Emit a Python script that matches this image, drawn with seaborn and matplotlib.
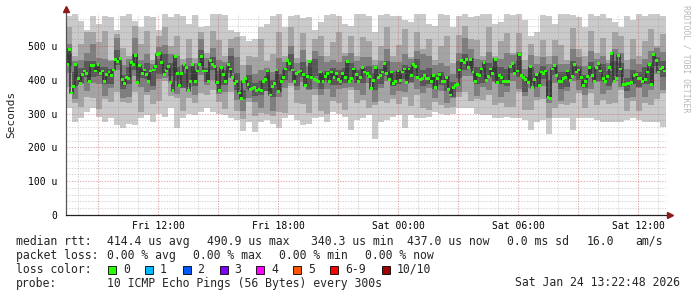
import numpy as np
import pandas as pd
import matplotlib
matplotlib.use("Agg")
import matplotlib.pyplot as plt
import seaborn as sns
from matplotlib.patches import Rectangle

# ---------------- data (microseconds) ----------------
start_hour = 7 + 22.8 / 60          # Fri 07:22:48
span_hours = 30.0                    # until Sat 13:22:48

median_rtt = [
    444, 491, 361, 379, 444, 405, 388, 417, 426, 420, 396, 441, 441, 426, 444, 420, 426, 396, 417, 423,
    414, 429, 461, 453, 464, 402, 388, 408, 405, 450, 444, 473, 391, 441, 420, 429, 417, 396, 426, 429,
    438, 476, 479,
    450, 417, 426, 438, 391, 367, 470, 420, 382, 420, 444, 435, 367, 396, 444, 396, 426, 444, 470, 426,
    426, 396, 456, 444, 438, 391, 367, 435, 417, 394, 444, 432, 408, 388, 394, 361, 346, 396, 405, 385,
    370, 373, 376, 367, 370,
    367, 396, 402, 426, 355, 379, 388, 429, 364, 396, 408, 432, 456, 447, 429, 396, 420, 423, 426, 417,
    382, 411, 453, 408, 402, 399, 396, 423, 396, 411, 420, 394, 423, 408, 420, 402, 396, 420, 408, 453,
    396, 405, 432, 417, 394,
    408, 435, 423, 420, 411, 373, 399, 435, 408, 414, 423, 447, 420, 402, 423, 388, 396, 426, 399, 423,
    432, 391, 432, 414, 444, 438, 408, 402, 405, 414, 405, 405, 396, 414, 376, 405, 417, 396, 396, 408,
    370, 355, 376, 382, 385, 429, 456, 450,
    461, 435, 461, 423, 396, 417, 414, 432, 450, 399, 411, 432, 420, 461, 391, 414, 408, 396, 394, 396,
    438, 447, 420, 426, 476, 414, 408, 402, 391, 438, 376, 402, 417, 382, 423, 420, 426, 349, 346, 432,
    441, 414, 396, 394, 405,
    408, 426, 399, 411, 444, 423, 429, 408, 382, 396, 411, 435, 414, 394, 435, 447, 426, 405, 396, 411,
    435, 479, 394, 405, 473, 432, 385, 385, 388, 388, 391, 414, 417, 405, 405, 394, 402, 423, 444, 385,
    476, 458, 423, 432, 435, 426,
]

# smoke bands (sorted pings): outermost -> innermost
smoke_outer_hi = [
    590, 595, 575, 548, 590, 565, 590, 585, 548, 590, 595, 575, 555, 590, 585, 548, 595,
    586, 596, 590, 566, 591, 556, 560, 596, 594, 591, 546, 540, 530, 516, 520, 556,
    566, 590, 596, 556, 588, 592, 584, 586, 546, 570, 591, 594, 588, 566, 560, 594, 596,
    590, 540, 592, 596, 588, 590, 576, 570, 596, 594, 566, 560, 596, 592, 556, 590, 595,
    586, 590, 596, 594, 566, 570, 596, 592, 596, 576, 530, 540, 591, 588, 566, 596, 594,
    592, 586, 556, 594, 590, 596, 584, 570, 556, 590, 576, 596, 588, 594, 596, 590,
]
smoke_outer_lo = [
    316, 276, 286, 306, 316, 290, 276, 286, 266, 258,
    270, 266, 286, 296, 276, 300, 290, 316, 256, 286,
    300, 296, 306, 316, 306, 300, 296, 286, 280, 250,
    276, 246, 276, 280, 270, 256, 286, 296, 280, 266,
    270, 286, 290, 276, 306, 300, 290, 251, 280, 286,
    296, 226, 276, 280, 290, 296, 256, 296, 286, 286,
    290, 306, 300, 296, 300, 316, 316, 316, 300, 296,
    296, 286, 286, 290, 286, 286, 280, 251, 276, 280,
    241, 286, 286, 286, 251, 286, 286, 286, 280, 276,
    276, 276, 276, 280, 286, 280, 276, 276, 276, 261,
]
smoke_mid_hi = [
    555, 470, 505, 540, 540, 513, 545, 460, 535, 495,
    470, 560, 506, 545, 460, 530, 555, 500, 530, 462,
    520, 465, 540, 480, 545, 519, 470, 520, 527, 444,
    470, 468, 520, 455, 477, 540, 470, 556, 465, 539,
    460, 520, 529, 470, 513, 540, 480, 530, 470, 526,
    516, 460, 501, 555, 470, 502, 550, 468, 540, 490,
    520, 460, 501, 530, 450, 533, 560, 520, 517, 470,
    555, 470, 516, 539, 480, 538, 460, 505, 470, 518,
    470, 517, 503, 460, 552, 490, 470, 545, 480, 525,
    460, 541, 530, 460, 522, 470, 516, 550, 500, 536,
]
smoke_mid_lo = [
    380, 330, 320, 350, 345, 313, 342, 335, 364, 335,
    331, 365, 306, 355, 328, 338, 395, 352, 345, 307,
    345, 330, 362, 356, 370, 334, 315, 363, 307, 285,
    335, 293, 303, 298, 292, 304, 302, 381, 330, 329,
    303, 355, 309, 300, 338, 332, 311, 370, 331, 341,
    316, 324, 336, 331, 344, 327, 350, 323, 355, 317,
    310, 335, 326, 317, 320, 348, 365, 338, 342, 339,
    356, 326, 331, 319, 321, 363, 312, 312, 340, 343,
    286, 317, 328, 326, 332, 360, 316, 360, 325, 340,
    329, 331, 370, 307, 337, 309, 331, 324, 342, 361,
]
smoke_inner_hi = [
    505, 455, 458, 480, 505, 465, 462, 455, 524, 443,
    461, 525, 458, 475, 448, 498, 503, 477, 470, 445,
    465, 450, 522, 464, 495, 459, 453, 493, 467, 396,
    443, 418, 428, 436, 422, 464, 454, 501, 450, 489,
    441, 485, 469, 452, 458, 452, 471, 478, 456, 466,
    468, 444, 456, 491, 452, 452, 475, 461, 485, 477,
    470, 443, 451, 442, 417, 478, 525, 490, 462, 459,
    481, 464, 461, 479, 473, 483, 432, 472, 448, 468,
    446, 469, 448, 446, 492, 468, 441, 485, 463, 470,
    449, 491, 478, 432, 462, 447, 461, 484, 494, 481,
]
smoke_inner_lo = [
    420, 343, 388, 367, 390, 387, 352, 376, 429, 345,
    348, 410, 380, 365, 369, 403, 405, 392, 358, 375,
    379, 355, 413, 386, 400, 359, 363, 406, 339, 309,
    345, 333, 316, 366, 309, 349, 376, 391, 371, 394,
    371, 372, 354, 374, 348, 373, 376, 380, 371, 354,
    390, 334, 377, 396, 354, 367, 363, 391, 372, 362,
    375, 345, 366, 330, 347, 365, 410, 412, 352, 380,
    369, 394, 348, 364, 395, 373, 353, 377, 350, 383,
    331, 391, 338, 367, 397, 370, 356, 373, 393, 357,
    370, 396, 380, 347, 350, 377, 348, 369, 416, 371,
]
smoke_core_hi = [
    478, 423, 434, 457, 457, 439, 438, 432, 489, 415,
    438, 477, 432, 451, 425, 463, 475, 450, 438, 421,
    441, 427, 487, 436, 468, 427, 429, 470, 419, 370,
    415, 391, 396, 412, 399, 416, 428, 477, 427, 454,
    417, 462, 421, 426, 434, 429, 436, 450, 429, 434,
    442, 420, 433, 456, 424, 425, 443, 437, 462, 429,
    435, 415, 424, 410, 393, 455, 477, 464, 438, 436,
    449, 440, 438, 431, 447, 459, 409, 437, 420, 441,
    398, 443, 424, 423, 457, 440, 414, 453, 439, 447,
    426, 456, 450, 405, 430, 423, 438, 436, 468, 457,
]
smoke_core_lo = [
    440, 381, 390, 407, 409, 411, 388, 388, 443, 373,
    388, 429, 404, 401, 381, 417, 433, 412, 396, 377,
    391, 383, 441, 394, 430, 385, 385, 420, 371, 342,
    373, 353, 354, 368, 349, 368, 400, 427, 383, 408,
    373, 412, 373, 398, 384, 385, 390, 408, 391, 392,
    414, 370, 389, 410, 382, 387, 401, 393, 412, 381,
    389, 373, 386, 368, 349, 405, 429, 436, 388, 392,
    407, 396, 388, 383, 419, 409, 365, 391, 378, 403,
    350, 415, 374, 379, 411, 398, 376, 411, 395, 397,
    382, 410, 408, 367, 388, 379, 388, 388, 440, 407,
]
smoke_colors = ["#cacaca", "#a4a4a4", "#7e7e7e", "#585858"]

x_tick_hours = [12, 18, 24, 30, 36]
x_tick_labels = ["Fri 12:00", "Fri 18:00", "Sat 00:00", "Sat 06:00", "Sat 12:00"]
y_tick_values = [0, 100, 200, 300, 400, 500]
y_tick_labels = ["0", "100 u", "200 u", "300 u", "400 u", "500 u"]

legend_rows = [
    ["median rtt:", "414.4 us avg", "490.9 us max", "340.3 us min", "437.0 us now", "0.0 ms sd", "16.0", "am/s"],
    ["packet loss:", "0.00 % avg", "0.00 % max", "0.00 % min", "0.00 % now"],
]
loss_labels = ["0", "1", "2", "3", "4", "5", "6-9", "10/10"]
loss_colors = ["#26ff00", "#00b8ff", "#0059ff", "#7e00ff", "#ff00ff", "#ff5500", "#ff0000", "#a10000"]
probe_text = "10 ICMP Echo Pings (56 Bytes) every 300s"
stamp_text = "Sat Jan 24 13:22:48 2026"

# ---------------- figure ----------------
sns.set_theme(style="white")
plt.rcParams["font.family"] = ["DejaVu Sans Mono", "DejaVu Sans"]

W, H = 697, 297
fig = plt.figure(figsize=(W / 100, H / 100), dpi=100)
fig.patch.set_facecolor("white")
ax = fig.add_axes([66 / W, (H - 215) / H, 600 / W, 201 / H])
ax.set_facecolor("white")

end_hour = start_hour + span_hours
n_band = len(smoke_outer_hi)
band_w = span_hours / n_band
band_t = start_hour + band_w * (np.arange(n_band) + 0.5)

bands = [
    (smoke_outer_lo, smoke_outer_hi),
    (smoke_mid_lo, smoke_mid_hi),
    (smoke_inner_lo, smoke_inner_hi),
    (smoke_core_lo, smoke_core_hi),
]
for (lo, hi), col in zip(bands, smoke_colors):
    lo = np.array(lo, float)
    hi = np.array(hi, float)
    ax.bar(band_t, hi - lo, bottom=lo, width=band_w, color=col,
           linewidth=0, antialiased=False, zorder=2)

n_med = len(median_rtt)
med_t = start_hour + span_hours * (np.arange(n_med) + 0.5) / n_med
df = pd.DataFrame({"t": med_t, "rtt": median_rtt})
sns.lineplot(data=df, x="t", y="rtt", drawstyle="steps-mid", color="#323232",
             lw=1.1, estimator=None, sort=False, ax=ax, zorder=3)
sns.scatterplot(data=df, x="t", y="rtt", marker="s", s=4.5, color="#26ff00",
                edgecolor="none", linewidth=0, ax=ax, zorder=6)

# grid (rrdtool style dotted, drawn over the smoke)
ymax = 201 / 0.338
gkw = dict(lw=0.75, ls=(0, (1.3, 1.3)), zorder=5)
for v in np.arange(20, ymax, 20):
    if int(round(v)) % 100 == 0:
        ax.axhline(v, color="#c05050", alpha=0.45, **gkw)
    else:
        ax.axhline(v, color="#8c8c8c", alpha=0.35, **gkw)
for h in range(int(np.ceil(start_hour)), int(end_hour) + 1):
    if h % 3 == 0:
        ax.axvline(h, color="#c05050", alpha=0.45, **gkw)
    else:
        ax.axvline(h, color="#8c8c8c", alpha=0.35, **gkw)

ax.set_xlim(start_hour, end_hour)
ax.set_ylim(0, ymax)
ax.set_xticks(x_tick_hours)
ax.set_xticklabels(x_tick_labels)
ax.set_yticks(y_tick_values)
ax.set_yticklabels(y_tick_labels)
ax.tick_params(axis="both", length=0, labelsize=7, colors="#000000")
ax.tick_params(axis="x", pad=4)
ax.tick_params(axis="y", pad=6)
ax.set_xlabel("")
ax.set_ylabel("")
for s in ["top", "right"]:
    ax.spines[s].set_visible(False)
ax.spines["left"].set_color("#555555")
ax.spines["bottom"].set_color("#222222")
ax.spines["left"].set_linewidth(0.9)
ax.spines["bottom"].set_linewidth(0.9)
ax.spines["left"].set_bounds(0, ymax * 1.02)
ax.spines["bottom"].set_zorder(7)
ax.spines["left"].set_zorder(7)

# arrows
ax.plot([0], [1.0 + 5 / 201], marker="^", ms=4.5, color="#8b1a1a",
        transform=ax.transAxes, clip_on=False, zorder=8)
ax.plot([1.0 + 4 / 600], [0], marker=">", ms=4.5, color="#8b1a1a",
        transform=ax.transAxes, clip_on=False, zorder=8)

def px(x, y):
    return x / W, 1 - y / H

fig.text(*px(11, 114), "Seconds", rotation=90, ha="center", va="center", fontsize=8)
fig.text(*px(686, 5), "RRDTOOL / TOBI OETIKER", rotation=270, ha="center", va="top",
         fontsize=5.9, color="#b8b8b8")

fs = 8.3
row1_x = [16, 107, 207, 311, 407, 507, 587, 635]
for x, s in zip(row1_x, legend_rows[0]):
    fig.text(*px(x, 241.5), s, ha="left", va="center", fontsize=fs)
row2_x = [16, 107, 193, 279, 365]
for x, s in zip(row2_x, legend_rows[1]):
    fig.text(*px(x, 255.5), s, ha="left", va="center", fontsize=fs)
fig.text(*px(16, 269.5), "loss color:", ha="left", va="center", fontsize=fs)
sw_x = [108, 145, 182.5, 219.5, 256, 293, 330, 381.7]
for x, lab, col in zip(sw_x, loss_labels, loss_colors):
    fig.add_artist(Rectangle(px(x, 273.5), 8 / W, 8 / H, transform=fig.transFigure,
                             facecolor=col, edgecolor="#000000", linewidth=0.6))
    fig.text(*px(x + 15, 269.5), lab, ha="left", va="center", fontsize=fs)
fig.text(*px(16, 283), "probe:", ha="left", va="center", fontsize=fs)
fig.text(*px(107, 283), probe_text, ha="left", va="center", fontsize=fs)
fig.text(*px(680, 283), stamp_text, ha="right", va="center", fontsize=fs)

fig.savefig("out.png", dpi=100, facecolor="white")
